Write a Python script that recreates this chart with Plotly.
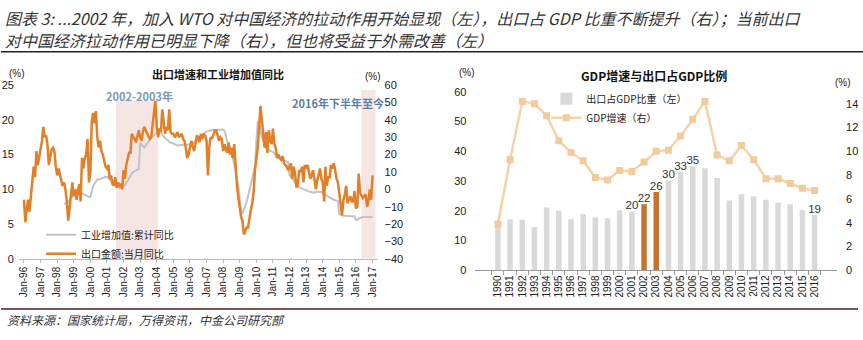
import plotly.graph_objects as go
import pandas as pd

W, H = 863, 340

# ---------------- data: left chart ----------------
# Export value, monthly YoY (%), Jan-1996 .. Jan-2017 (right axis)
export_1996 = [-6, -19, -12, -6, -13, -3, 4, 13, 7, 22, 14, 18]
export_1997 = [22, 28, 36, 30, 31, 26, 14, 18, 23, 24, 22, 13]
export_1998 = [8, 12, 8, 5, 2, 4, 0, -7, -18, -10, -4, 4]
export_1999 = [-4, 0, -6, -2, 3, -7, 18, 12, 18, 20, 29, 4]
export_2000 = [10, 39, 44, 38, 45, 30, 24, 28, 22, 20, 16, 13]
export_2001 = [12, 14, 6, 8, 3, 2, 7, 1, 4, 2, 3, 0]
export_2002 = [11, 6, 14, 18, 21, 21, 32, 30, 29, 27, 31, 34]
export_2003 = [30, 28, 33, 36, 34, 32, 30, 29, 30, 38, 44, 51]
export_2004 = [36, 30, 35, 33, 46, 38, 32, 36, 34, 46, 33, 32]
export_2005 = [32, 30, 31, 33, 30, 31, 32, 29, 28, 24, 18, 20]
export_2006 = [24, 28, 25, 22, 26, 31, 30, 27, 32, 29, 32, 31]
export_2007 = [28, 8, 24, 30, 29, 32, 34, 34, 30, 28, 30, 29]
export_2008 = [22, 26, 23, 21, 27, 20, 24, 18, 26, 10, 2, -5]
export_2009 = [-12, -16, -18, -26, -24, -22, -22, -16, -12, -8, -2, 11]
export_2010 = [18, 24, 35, 48, 40, 30, 24, 33, 21, 34, 28, 26]
export_2011 = [35, 26, 24, 18, 20, 18, 17, 19, 15, 14, 13, 11]
export_2012 = [13, 15, 6, 13, 9, 1, 3, 11, 10, 13, 4, 14]
export_2013 = [12, 14, 10, 6, 8, 11, 6, 0, 5, 9, 12, 6]
export_2014 = [4, -7, 13, 2, 7, 7, 14, 12, 15, 11, 6, 4]
export_2015 = [-3, -9, -15, -6, -3, 2, -8, -6, -4, -7, -7, -1]
export_2016 = [-11, -10, 9, -2, -4, -5, -4, -3, -10, -7, 0, -6]
export_2017 = [8]

# Industrial value added, cumulative YoY (%), Jun-1998 .. Jan-2017 (left axis)
iva_1998 = [7.9, 7.9, 8.0, 8.2, 8.5, 8.8, 8.9]
iva_1999 = [9.6, 9.8, 9.9, 9.8, 9.6, 9.5, 9.4, 9.3, 9.2, 9.0, 8.9, 8.9]
iva_2000 = [8.9, 10.0, 10.5, 10.8, 11.2, 11.4, 11.4, 11.5, 11.6, 11.7, 11.8, 11.8]
iva_2001 = [11.8, 11.6, 11.4, 11.2, 11.0, 10.8, 10.6, 10.4, 10.3, 10.3, 10.2, 10.3]
iva_2002 = [10.4, 10.6, 11.0, 11.2, 11.6, 12.0, 12.3, 12.5, 12.6, 12.8, 12.8, 12.9]
iva_2003 = [16.7, 16.4, 16.2, 16.0, 16.3, 16.6, 16.9, 17.1, 17.4, 17.6, 17.8, 18.0]
iva_2004 = [18.0, 18.1, 18.3, 18.2, 17.8, 17.6, 17.4, 17.2, 17.0, 16.8, 16.7, 16.7]
iva_2005 = [16.6, 16.4, 16.3, 16.3, 16.3, 16.4, 16.4, 16.4, 16.3, 16.3, 16.4, 16.4]
iva_2006 = [16.4, 16.5, 16.6, 16.7, 16.8, 17.0, 17.3, 17.5, 17.7, 17.9, 18.1, 18.2]
iva_2007 = [18.3, 18.3, 18.4, 18.5, 18.5, 18.6, 18.6, 18.6, 18.6, 18.6, 18.6, 18.5]
iva_2008 = [18.6, 18.4, 17.5, 16.8, 16.2, 15.7, 15.1, 14.5, 13.5, 12.5, 11.4, 10.4]
iva_2009 = [8.5, 6.8, 6.5, 7.0, 7.5, 8.2, 9.0, 9.8, 10.5, 11.5, 12.5, 13.2]
iva_2010 = [17.0, 19.7, 19.6, 18.5, 17.5, 17.0, 16.5, 16.0, 15.8, 15.6, 15.5, 15.5]
iva_2011 = [15.3, 15.1, 14.9, 14.8, 14.6, 14.5, 14.4, 14.3, 14.2, 14.1, 14.0, 13.9]
iva_2012 = [12.0, 11.8, 11.6, 11.3, 11.0, 10.7, 10.5, 10.3, 10.2, 10.1, 10.0, 10.0]
iva_2013 = [9.9, 9.8, 9.7, 9.6, 9.6, 9.5, 9.5, 9.6, 9.6, 9.6, 9.6, 9.6]
iva_2014 = [9.4, 9.3, 9.2, 9.0, 8.9, 8.8, 8.7, 8.6, 8.5, 8.4, 8.4, 8.3]
iva_2015 = [6.4, 6.3, 6.3, 6.2, 6.2, 6.2, 6.2, 6.2, 6.2, 6.1, 6.1, 6.1]
iva_2016 = [5.6, 5.6, 5.8, 5.9, 6.0, 6.0, 6.0, 6.0, 6.0, 6.0, 6.0, 6.0]
iva_2017 = [6.0]

# ---------------- data: right chart ----------------
years = [str(y) for y in range(1990, 2017)]
export_share = [16.0, 17.2, 17.0, 14.6, 21.1, 20.1, 17.2, 18.9, 17.8, 17.5, 20.2, 19.8,
                22.2, 26.3, 30.2, 33.2, 35.0, 34.3, 31.0, 23.5, 25.6, 24.9, 23.7, 22.7,
                22.2, 20.2, 18.6]
gdp_growth = [3.9, 9.3, 14.2, 14.0, 13.0, 10.9, 9.9, 9.2, 7.8, 7.6, 8.4, 8.3,
              9.1, 10.0, 10.1, 11.3, 12.7, 14.2, 9.7, 9.2, 10.5, 9.3, 7.7, 7.7,
              7.3, 6.9, 6.7]
highlight_years = ["2002", "2003"]
labeled_years = ["2001", "2002", "2003", "2004", "2005", "2006", "2016"]

# ---------------- assemble ----------------
export_yoy = (export_1996 + export_1997 + export_1998 + export_1999 + export_2000 +
              export_2001 + export_2002 + export_2003 + export_2004 + export_2005 +
              export_2006 + export_2007 + export_2008 + export_2009 + export_2010 +
              export_2011 + export_2012 + export_2013 + export_2014 + export_2015 +
              export_2016 + export_2017)
iva_yoy = (iva_1998 + iva_1999 + iva_2000 + iva_2001 + iva_2002 + iva_2003 + iva_2004 +
           iva_2005 + iva_2006 + iva_2007 + iva_2008 + iva_2009 + iva_2010 + iva_2011 +
           iva_2012 + iva_2013 + iva_2014 + iva_2015 + iva_2016 + iva_2017)
export_dates = pd.date_range("1996-01-01", periods=len(export_yoy), freq="MS")
iva_dates = pd.date_range("1998-06-01", periods=len(iva_yoy), freq="MS")


def fx(x):
    return x / W


def fy(y):
    return 1 - y / H


ORANGE = "#E27F27"
GREY = "#C3C3C3"
FONT = "Noto Sans CJK SC"
NUM = "Liberation Sans"

fig = go.Figure()

fig.add_trace(go.Scatter(x=iva_dates, y=iva_yoy, mode="lines", name="工业增加值:累计同比",
                         line=dict(color=GREY, width=2), xaxis="x", yaxis="y",
                         legend="legend"))
fig.add_trace(go.Scatter(x=export_dates, y=export_yoy, mode="lines", name="出口金额:当月同比",
                         line=dict(color=ORANGE, width=2.5), xaxis="x", yaxis="y2",
                         legend="legend"))

bar_colors = ["#C8722E" if y in highlight_years else "#D9D9D9" for y in years]
bar_text = [f"{v:.0f}" if y in labeled_years else "" for y, v in zip(years, export_share)]
fig.add_trace(go.Bar(x=years, y=export_share, name="出口占GDP比重（左）",
                     marker=dict(color=bar_colors, line=dict(width=0)), width=0.45,
                     text=bar_text, textposition="outside", cliponaxis=False,
                     constraintext="none", textangle=0,
                     textfont=dict(family=NUM, size=11.5, color="#333"),
                     xaxis="x2", yaxis="y3", legend="legend2"))
fig.add_trace(go.Scatter(x=years, y=gdp_growth, mode="lines+markers", name="GDP增速（右）",
                         line=dict(color="#F5D3A9", width=2.5),
                         marker=dict(symbol="square", size=7, color="#F1CB9C"),
                         xaxis="x2", yaxis="y4", legend="legend2"))

# left x-axis range so that Jan-96 sits at px 23 and Jan-17 at px 372
t0 = pd.Timestamp("1996-01-01")
t1 = pd.Timestamp("2017-01-01")
per_px = (t1 - t0) / (372 - 23)
xl0, xl1 = 18, 377
r0 = t0 - per_px * (23 - xl0)
r1 = t1 + per_px * (xl1 - 372)

axis_font = dict(family=NUM, size=11, color="#222")

fig.update_layout(
    width=W, height=H, margin=dict(l=0, r=0, t=0, b=0),
    paper_bgcolor="white", plot_bgcolor="rgba(0,0,0,0)",
    showlegend=True, bargap=0.5,
    font=dict(family=FONT, color="#222"),
    xaxis=dict(domain=[fx(xl0), fx(xl1)], type="date", range=[r0, r1], anchor="y",
               tickformat="%b-%y", dtick="M12", tick0="1996-01-01", tickangle=-90,
               ticks="outside", ticklen=3, tickcolor="#BBB", showline=True,
               linecolor="#BBB", showgrid=False, zeroline=False,
               tickfont=dict(family=NUM, size=10, color="#222")),
    yaxis=dict(domain=[fy(262), fy(82)], range=[0, 25], dtick=5, anchor="x",
               showgrid=False, zeroline=False, showline=False, tickfont=axis_font,
               ticklabelstandoff=4),
    yaxis2=dict(overlaying="y", side="right", range=[-40, 60], dtick=10, anchor="x",
                showgrid=False, zeroline=False, showline=False, tickfont=axis_font,
                ticklabelstandoff=6),
    xaxis2=dict(domain=[fx(475), fx(837)], type="category", anchor="y3", tickangle=-90,
                ticks="outside", ticklen=4, tickson="boundaries", tickcolor="#999",
                showline=True, linecolor="#999", showgrid=False,
                tickfont=dict(family=NUM, size=10, color="#222")),
    yaxis3=dict(domain=[fy(274), fy(89)], range=[0, 60], dtick=10, anchor="x2",
                showgrid=False, zeroline=False, showline=False, tickfont=axis_font,
                ticklabelstandoff=8),
    yaxis4=dict(overlaying="y3", side="right", range=[0, 15], tickvals=[0, 2, 4, 6, 8, 10, 12, 14],
                anchor="x2", showgrid=False, zeroline=False, showline=False,
                tickfont=axis_font, ticklabelstandoff=8),
    legend=dict(x=fx(40), y=fy(222), xanchor="left", yanchor="top",
                bgcolor="rgba(0,0,0,0)", font=dict(family=FONT, size=10, color="#222"),
                itemwidth=30, tracegroupgap=0),
    legend2=dict(x=fx(546), y=fy(81), xanchor="left", yanchor="top",
                 bgcolor="rgba(0,0,0,0)", font=dict(family=FONT, size=10, color="#222"),
                 itemwidth=30, tracegroupgap=0),
)

# shaded periods (left chart)
fig.add_shape(type="rect", xref="x", yref="y", x0="2001-07-15", x1="2004-01-31",
              y0=0, y1=22.8, fillcolor="#F3E0DF", line=dict(width=0), layer="below",
              opacity=0.8)
fig.add_shape(type="rect", xref="x", yref="y", x0="2016-05-01", x1="2017-03-08",
              y0=0, y1=24.3, fillcolor="#F3E0DF", line=dict(width=0), layer="below",
              opacity=0.8)

# rules
fig.add_shape(type="line", xref="paper", yref="paper", x0=0, x1=1, y0=fy(47.5), y1=fy(47.5),
              line=dict(color="#222", width=1.5))
fig.add_shape(type="line", xref="paper", yref="paper", x0=0, x1=fx(858), y0=fy(314),
              y1=fy(314), line=dict(color="#4A1E1E", width=1.5))


def note(x, y, text, size=11, color="#222", anchor="center", bold=False, italic=False,
         family=FONT, align="center"):
    if bold:
        text = f"<b>{text}</b>"
    fig.add_annotation(x=fx(x), y=fy(y), xref="paper", yref="paper", text=text,
                       showarrow=False, xanchor=anchor, yanchor="middle", align=align,
                       font=dict(family=family, size=size, color=color,
                                 style="italic" if italic else "normal"))


note(2, 12, "图表 3: ...2002 年，加入 WTO 对中国经济的拉动作用开始显现（左），出口占 GDP 比重不断提升（右）；当前出口",
     size=16, color="#333", anchor="left", italic=True)
note(2, 35.5, "对中国经济拉动作用已明显下降（右），但也将受益于外需改善（左）",
     size=16, color="#333", anchor="left", italic=True)
note(4, 325, "资料来源：国家统计局，万得资讯，中金公司研究部", size=12, color="#333",
     anchor="left", italic=True)

note(217, 71, "出口增速和工业增加值同比", size=11, bold=True, color="#111")
note(16, 70, "(%)", size=10, family=NUM)
note(372, 73, "(%)", size=10, family=NUM)
note(139, 93, "2002-2003年", size=11, bold=True, color="#7E98B8")
note(337, 101, "2016年下半年至今", size=11, bold=True, color="#5E7FA6")

note(654, 72, "GDP增速与出口占GDP比例", size=12, bold=True, color="#111")
note(467, 69, "(%)", size=10, family=NUM)
note(843, 79, "(%)", size=10, family=NUM)

fig.write_html("out.html")
